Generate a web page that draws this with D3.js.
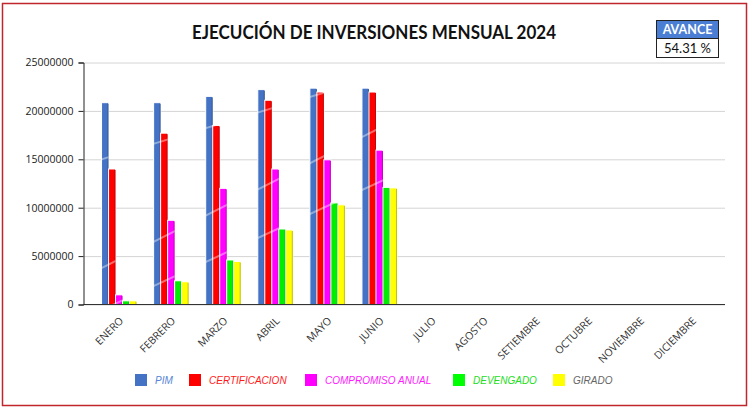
<!DOCTYPE html>
<html>
<head>
<meta charset="utf-8">
<script src="https://cdn.jsdelivr.net/npm/d3@7"></script>
<style>
  html, body { margin: 0; padding: 0; background: #fff; }
  svg { display: block; }
</style>
</head>
<body>
<svg id="chart" width="750" height="408"></svg>
<script>
const months = ["ENERO","FEBRERO","MARZO","ABRIL","MAYO","JUNIO","JULIO","AGOSTO","SETIEMBRE","OCTUBRE","NOVIEMBRE","DICIEMBRE"];
const seriesNames = ["PIM","CERTIFICACION","COMPROMISO ANUAL","DEVENGADO","GIRADO"];
const pim           = [20850000, 20850000, 21500000, 22200000, 22350000, 22350000, 0, 0, 0, 0, 0, 0];
const certificacion = [14000000, 17700000, 18500000, 21100000, 21950000, 21950000, 0, 0, 0, 0, 0, 0];
const compromiso    = [1000000, 8700000, 12000000, 14000000, 14950000, 15950000, 0, 0, 0, 0, 0, 0];
const devengado     = [380000, 2450000, 4600000, 7800000, 10500000, 12100000, 0, 0, 0, 0, 0, 0];
const girado        = [380000, 2350000, 4450000, 7700000, 10300000, 12050000, 0, 0, 0, 0, 0, 0];
const yTicks = [0, 5000000, 10000000, 15000000, 20000000, 25000000];
const title = "EJECUCIÓN DE INVERSIONES MENSUAL 2024";
const avanceLabel = "AVANCE";
const avanceValue = "54.31 %";

const series = [pim, certificacion, compromiso, devengado, girado];
const colors = ["#4472C4", "#FF0000", "#FF00FF", "#00EE00", "#FFFF00"];
const legendColors = ["#4472C4", "#FF0000", "#FF00FF", "#00FF00", "#FFFF00"];
const legendTextColors = ["#5585d6", "#ff1a1a", "#ff1aff", "#22dd22", "#666666"];

const svg = d3.select("#chart");

// Outer red frame
svg.append("rect").attr("x", 2.5).attr("y", 3.5).attr("width", 744).attr("height", 402)
  .attr("fill", "#fff").attr("stroke", "#c0262b").attr("stroke-width", 1.5);

const plotLeft = 83.5, plotRight = 725;
const y = d3.scaleLinear().domain([0, 25000000]).range([304.5, 62.5]);
const x = d3.scaleBand().domain(months).range([93, 718]).padding(0);
const sub = d3.scaleBand().domain(d3.range(series.length)).range([0, 35]);
const barX = (m, si) => x(m) + x.bandwidth() / 2 - 17.5 + sub(si);

// Gridlines
const grid = svg.append("g").attr("transform", `translate(${plotLeft},0)`)
  .call(d3.axisLeft(y).tickValues(yTicks).tickSize(-(plotRight - plotLeft)).tickFormat(""));
grid.select(".domain").remove();
grid.selectAll(".tick line").attr("stroke", "#d4d4d4").attr("stroke-width", 1);

// Clip path made of bars (for the glossy streaks)
const defs = svg.append("defs");
const clip = defs.append("clipPath").attr("id", "barsClip");

// Bars
series.forEach((vals, si) => {
  const data = vals.map((v, i) => ({m: months[i], v})).filter(d => d.v > 0);
  svg.append("g").selectAll("rect").data(data)
    .join("rect")
    .attr("x", d => barX(d.m, si))
    .attr("y", d => y(d.v))
    .attr("width", sub.bandwidth())
    .attr("height", d => y(0) - y(d.v))
    .attr("fill", colors[si])
    .attr("stroke", "#ffffff")
    .attr("stroke-width", 1);
  clip.selectAll(null).data(data).join("rect")
    .attr("x", d => barX(d.m, si))
    .attr("y", d => y(d.v))
    .attr("width", sub.bandwidth())
    .attr("height", d => y(0) - y(d.v));
  svg.append("g").selectAll("line").data(data)
    .join("line")
    .attr("x1", d => barX(d.m, si) + sub.bandwidth() - 0.5)
    .attr("x2", d => barX(d.m, si) + sub.bandwidth() - 0.5)
    .attr("y1", d => y(d.v) + 1)
    .attr("y2", y(0))
    .attr("stroke", d3.color(colors[si]).darker(0.8))
    .attr("stroke-width", 1);
});

// Faint glossy streaks across the bars (defined in data space: month index, value at group start)
const streaks = [
  [[0, -570000], [5, 11830000]],
  [[0, 3770000], [5, 17300000]],
  [[0, 15000000], [4, 21440000]]
];
const sx = i => x(months[i]) + x.bandwidth() / 2 - 17.5;
const ext = 40;
svg.append("g").attr("clip-path", "url(#barsClip)")
  .selectAll("line").data(streaks).join("line")
  .each(function(d) {
    const x1 = sx(d[0][0]), y1 = y(d[0][1]), x2 = sx(d[1][0]), y2 = y(d[1][1]);
    const s = (y2 - y1) / (x2 - x1);
    d3.select(this)
      .attr("x1", x1 - ext).attr("y1", y1 - s * ext)
      .attr("x2", x2 + ext).attr("y2", y2 + s * ext);
  })
  .attr("stroke", "#ffffff").attr("stroke-opacity", 0.4).attr("stroke-width", 2);

// Baseline
svg.append("line").attr("x1", plotLeft).attr("x2", plotRight).attr("y1", y(0)).attr("y2", y(0))
  .attr("stroke", "#333").attr("stroke-width", 1);

// Y axis
const yAxis = svg.append("g").attr("transform", `translate(${plotLeft},0)`)
  .call(d3.axisLeft(y).tickValues(yTicks).tickSize(5).tickPadding(5).tickFormat(d3.format("d")));
yAxis.select(".domain").attr("stroke", "#222");
yAxis.selectAll(".tick line").attr("stroke", "#222");
yAxis.selectAll("text").attr("font-family", "'Open Sans', sans-serif").attr("font-size", "10.5px").attr("fill", "#222");

// X axis labels
const xAxis = svg.append("g").attr("transform", `translate(0,${y(0)})`)
  .call(d3.axisBottom(x).tickSize(0).tickPadding(0));
xAxis.select(".domain").remove();
xAxis.selectAll(".tick text")
  .attr("font-family", "'Open Sans', sans-serif").attr("font-size", "10.5px").attr("fill", "#333")
  .attr("text-anchor", "end")
  .attr("dy", 0)
  .attr("transform", "translate(5,17) rotate(-45)")
  .attr("y", 0).attr("x", 0);

// Title
svg.append("text").attr("x", 374).attr("y", 39).attr("text-anchor", "middle")
  .attr("font-family", "Lato, 'Open Sans', sans-serif").attr("font-weight", "bold")
  .attr("font-size", "19px").attr("fill", "#111")
  .attr("textLength", 364).attr("lengthAdjust", "spacingAndGlyphs")
  .text(title);

// AVANCE box
const bx = 656.5, bw = 62, by = 20.5, bh1 = 18, bh2 = 19;
svg.append("rect").attr("x", bx).attr("y", by).attr("width", bw).attr("height", bh1)
  .attr("fill", "#4a7ed4").attr("stroke", "#222").attr("stroke-width", 1);
svg.append("rect").attr("x", bx).attr("y", by + bh1).attr("width", bw).attr("height", bh2)
  .attr("fill", "#fff").attr("stroke", "#222").attr("stroke-width", 1);
svg.append("text").attr("x", bx + bw / 2).attr("y", by + 13.5).attr("text-anchor", "middle")
  .attr("font-family", "Lato, 'Open Sans', sans-serif").attr("font-weight", "bold")
  .attr("font-size", "12.5px").attr("fill", "#fff").text(avanceLabel);
svg.append("text").attr("x", bx + bw / 2).attr("y", by + bh1 + 14).attr("text-anchor", "middle")
  .attr("font-family", "Lato, 'Open Sans', sans-serif")
  .attr("font-size", "13px").attr("fill", "#111").text(avanceValue);

// Legend
const legendX = [135, 189, 305, 453, 553];
const lg = svg.append("g");
seriesNames.forEach((n, i) => {
  lg.append("rect").attr("x", legendX[i]).attr("y", 374).attr("width", 12).attr("height", 12)
    .attr("fill", legendColors[i]);
  lg.append("text").attr("x", legendX[i] + 20).attr("y", 384)
    .attr("font-family", "'Liberation Sans', Arial, sans-serif").attr("font-style", "italic")
    .attr("font-size", "10px").attr("fill", legendTextColors[i]).text(n);
});
</script>
</body>
</html>
